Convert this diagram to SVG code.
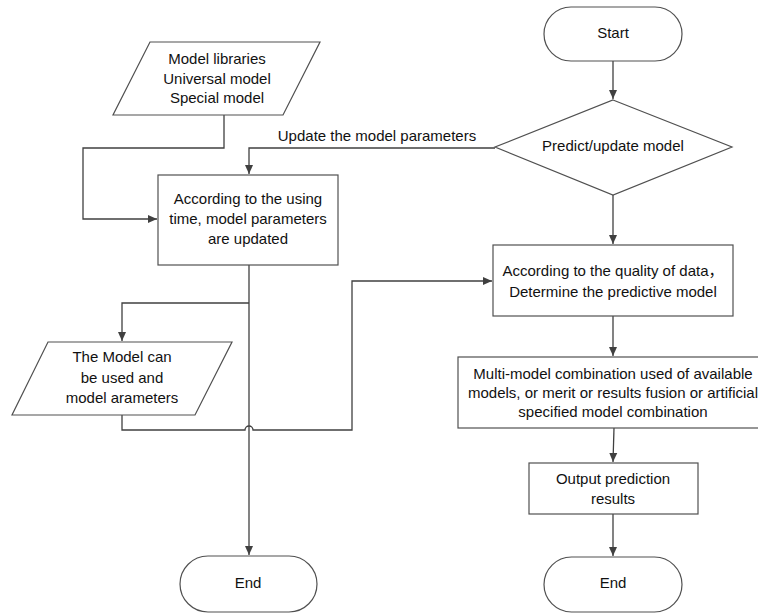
<svg xmlns="http://www.w3.org/2000/svg" width="758" height="613" viewBox="0 0 758 613">
<style>
.s{fill:#fff;stroke:#505050;stroke-width:1.2}
.c{fill:none;stroke:#404040;stroke-width:1.3}
text{font-family:"Liberation Sans","Noto Sans CJK SC",Arial,sans-serif;font-size:15px;fill:#111;text-anchor:middle;dominant-baseline:middle}
</style>
<defs>
<marker id="a" markerWidth="10" markerHeight="10" refX="9" refY="5" orient="auto" markerUnits="userSpaceOnUse">
<path d="M0,1 L9,5 L0,9 Z" fill="#404040"/>
</marker>
</defs>
<rect width="758" height="613" fill="#fff"/>
<g id="connectors">
<path class="c" d="M224,115 V148 H83 V219 H157" marker-end="url(#a)"/>
<path class="c" d="M495,148 H249 V174" marker-end="url(#a)"/>
<path class="c" d="M613,61 V99" marker-end="url(#a)"/>
<path class="c" d="M613,195 V244" marker-end="url(#a)"/>
<path class="c" d="M249,265 V555" marker-end="url(#a)"/>
<path class="c" d="M249,303 H122 V341" marker-end="url(#a)"/>
<path class="c" d="M122,415 V430 H245 a4,4 0 0 1 8,0 H352 V281 H492" marker-end="url(#a)"/>
<path class="c" d="M613,316 V356" marker-end="url(#a)"/>
<path class="c" d="M614,428 L613,462" marker-end="url(#a)"/>
<path class="c" d="M613,514 V556" marker-end="url(#a)"/>
<text x="377" y="137">Update the model parameters</text>
</g>
<g id="start">
<rect class="s" x="544" y="7" width="138" height="54" rx="27"/>
<text x="613" y="34">Start</text>
</g>
<g id="libraries">
<polygon class="s" points="150,42 320,42 283,115 113,115"/>
<text x="217" y="60">Model libraries</text>
<text x="217" y="80">Universal model</text>
<text x="217" y="99">Special model</text>
</g>
<g id="decision">
<polygon class="s" points="613,100 732,147 613,195 495,147"/>
<text x="613" y="147">Predict/update model</text>
</g>
<g id="update">
<rect class="s" x="158" y="175" width="180" height="90"/>
<text x="248" y="200">According to the using</text>
<text x="248" y="220">time, model parameters</text>
<text x="248" y="240">are updated</text>
</g>
<g id="determine">
<rect class="s" x="493" y="245" width="240" height="71"/>
<text x="613" y="272">According to the quality of data，</text>
<text x="613" y="293">Determine the predictive model</text>
</g>
<g id="usable">
<polygon class="s" points="48,342 232,342 195,415 12,415"/>
<text x="122" y="358">The Model can</text>
<text x="122" y="379">be used and</text>
<text x="122" y="399">model arameters</text>
</g>
<g id="combination">
<rect class="s" x="458" y="357" width="310" height="71"/>
<text x="613" y="375">Multi-model combination used of available</text>
<text x="613" y="394">models, or merit or results fusion or artificial</text>
<text x="613" y="413">specified model combination</text>
</g>
<g id="output">
<rect class="s" x="529" y="463" width="169" height="51"/>
<text x="613" y="480">Output prediction</text>
<text x="613" y="500">results</text>
</g>
<g id="end1">
<rect class="s" x="180" y="556" width="137" height="56" rx="28"/>
<text x="248" y="584">End</text>
</g>
<g id="end2">
<rect class="s" x="544" y="557" width="138" height="55" rx="27.5"/>
<text x="613" y="584">End</text>
</g>
</svg>
